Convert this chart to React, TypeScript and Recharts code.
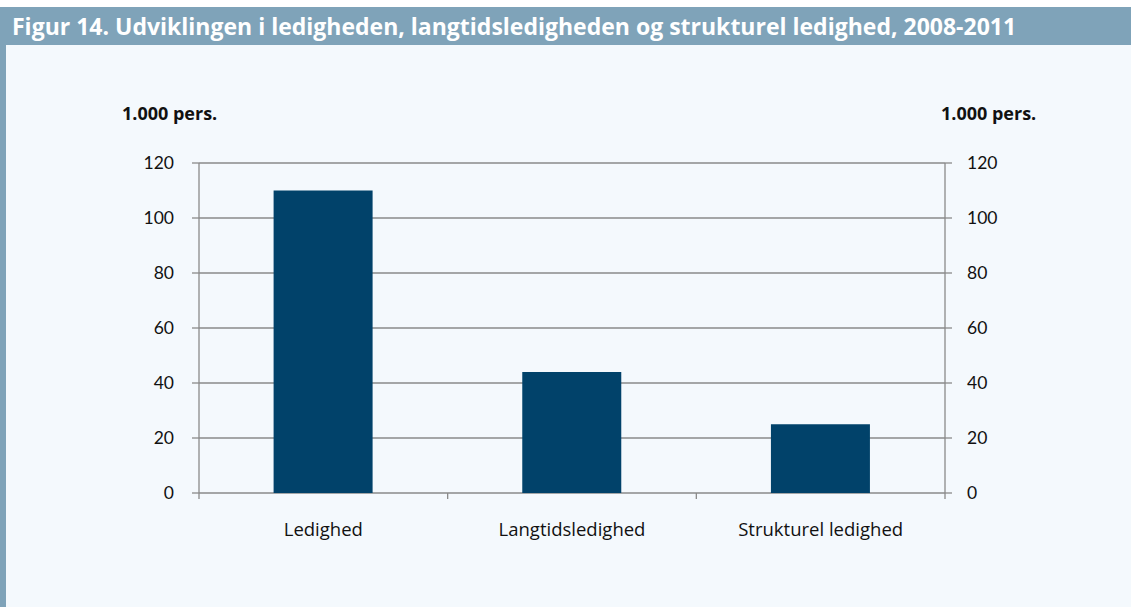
import React from "react";
import { ComposedChart, Bar, Line, XAxis, YAxis, CartesianGrid } from "recharts";

const categories = ["Ledighed", "Langtidsledighed", "Strukturel ledighed"];
const values = [110, 44, 25];
const yTicks = [0, 20, 40, 60, 80, 100, 120];
const title = "Figur 14. Udviklingen i ledigheden, langtidsledigheden og strukturel ledighed, 2008-2011";
const unitLabel = "1.000 pers.";

const data = categories.map((c, i) => ({ name: c, value: values[i] }));

const AXIS = "#8a8a8a";
const TICK_SIZE = 6;
const TICK_MARGIN = 20;

const CatTick = (props: any) => {
  const { x, y, payload, index, visibleTicksCount } = props;
  const half = payload && payload.offset ? payload.offset : 124.3;
  const axisY = y - TICK_SIZE - TICK_MARGIN;
  const last = index === (visibleTicksCount ?? 3) - 1;
  return (
    <g>
      <line x1={x - half} x2={x - half} y1={axisY} y2={axisY + TICK_SIZE} stroke={AXIS} strokeWidth={1.3} />
      {last && (
        <line x1={x + half} x2={x + half} y1={axisY} y2={axisY + TICK_SIZE} stroke={AXIS} strokeWidth={1.3} />
      )}
      <text x={x} y={y} dy={17} textAnchor="middle" fill="#111" fontSize={18.5} fontFamily="'Open Sans', sans-serif">
        {payload.value}
      </text>
    </g>
  );
};

const unitStyle: React.CSSProperties = {
  position: "absolute",
  top: 101,
  fontFamily: "'Open Sans', sans-serif",
  fontWeight: 700,
  fontSize: 18,
  color: "#111",
  whiteSpace: "nowrap",
};

export default function App() {
  return (
    <div style={{ position: "absolute", left: 0, top: 0, width: 1131, height: 607, background: "#ffffff", overflow: "hidden" }}>
      <div style={{ position: "absolute", left: 0, top: 7, width: 1131, height: 600, background: "#f4f9fd" }} />
      <div style={{ position: "absolute", left: 0, top: 7, width: 6, height: 600, background: "#7fa3b9" }} />
      <div
        style={{
          position: "absolute",
          left: 0,
          top: 7,
          width: 1131,
          height: 38,
          background: "#7fa3b9",
          color: "#ffffff",
          fontFamily: "'Open Sans', sans-serif",
          fontWeight: 700,
          fontSize: 23,
          lineHeight: "38px",
          paddingLeft: 12,
          boxSizing: "border-box",
          whiteSpace: "nowrap",
        }}
      >
        {title}
      </div>
      <div style={{ ...unitStyle, left: 122 }}>{unitLabel}</div>
      <div style={{ ...unitStyle, left: 941 }}>{unitLabel}</div>
      <div style={{ position: "absolute", left: 0, top: 0 }}>
        <ComposedChart
          width={1131}
          height={607}
          data={data}
          margin={{ top: 163, right: 0, bottom: 0, left: 0 }}
          barCategoryGap="30%"
        >
          <XAxis
            dataKey="name"
            height={114}
            axisLine={false}
            tickLine={false}
            tickSize={TICK_SIZE}
            tickMargin={TICK_MARGIN}
            tick={<CatTick />}
            interval={0}
          />
          <YAxis
            yAxisId="left"
            orientation="left"
            width={199}
            domain={[0, 120]}
            ticks={yTicks}
            interval={0}
            axisLine={{ stroke: AXIS, strokeWidth: 1.3 }}
            tickLine={{ stroke: AXIS, strokeWidth: 1.3 }}
            tickSize={7}
            tickMargin={18}
            tick={{ fill: "#111", fontSize: 17.5, fontFamily: "Lato, sans-serif" }}
          />
          <YAxis
            yAxisId="right"
            orientation="right"
            width={186}
            domain={[0, 120]}
            ticks={yTicks}
            interval={0}
            axisLine={{ stroke: AXIS, strokeWidth: 1.3 }}
            tickLine={{ stroke: AXIS, strokeWidth: 1.3 }}
            tickSize={7}
            tickMargin={15}
            tick={{ fill: "#111", fontSize: 17.5, fontFamily: "Lato, sans-serif" }}
          />
          <CartesianGrid yAxisId="left" vertical={false} stroke={AXIS} strokeWidth={1.3} />
          <Bar yAxisId="left" dataKey="value" fill="#01426a" isAnimationActive={false} />
          <Line yAxisId="right" dataKey="value" stroke="none" dot={false} activeDot={false} legendType="none" isAnimationActive={false} />
        </ComposedChart>
      </div>
    </div>
  );
}
